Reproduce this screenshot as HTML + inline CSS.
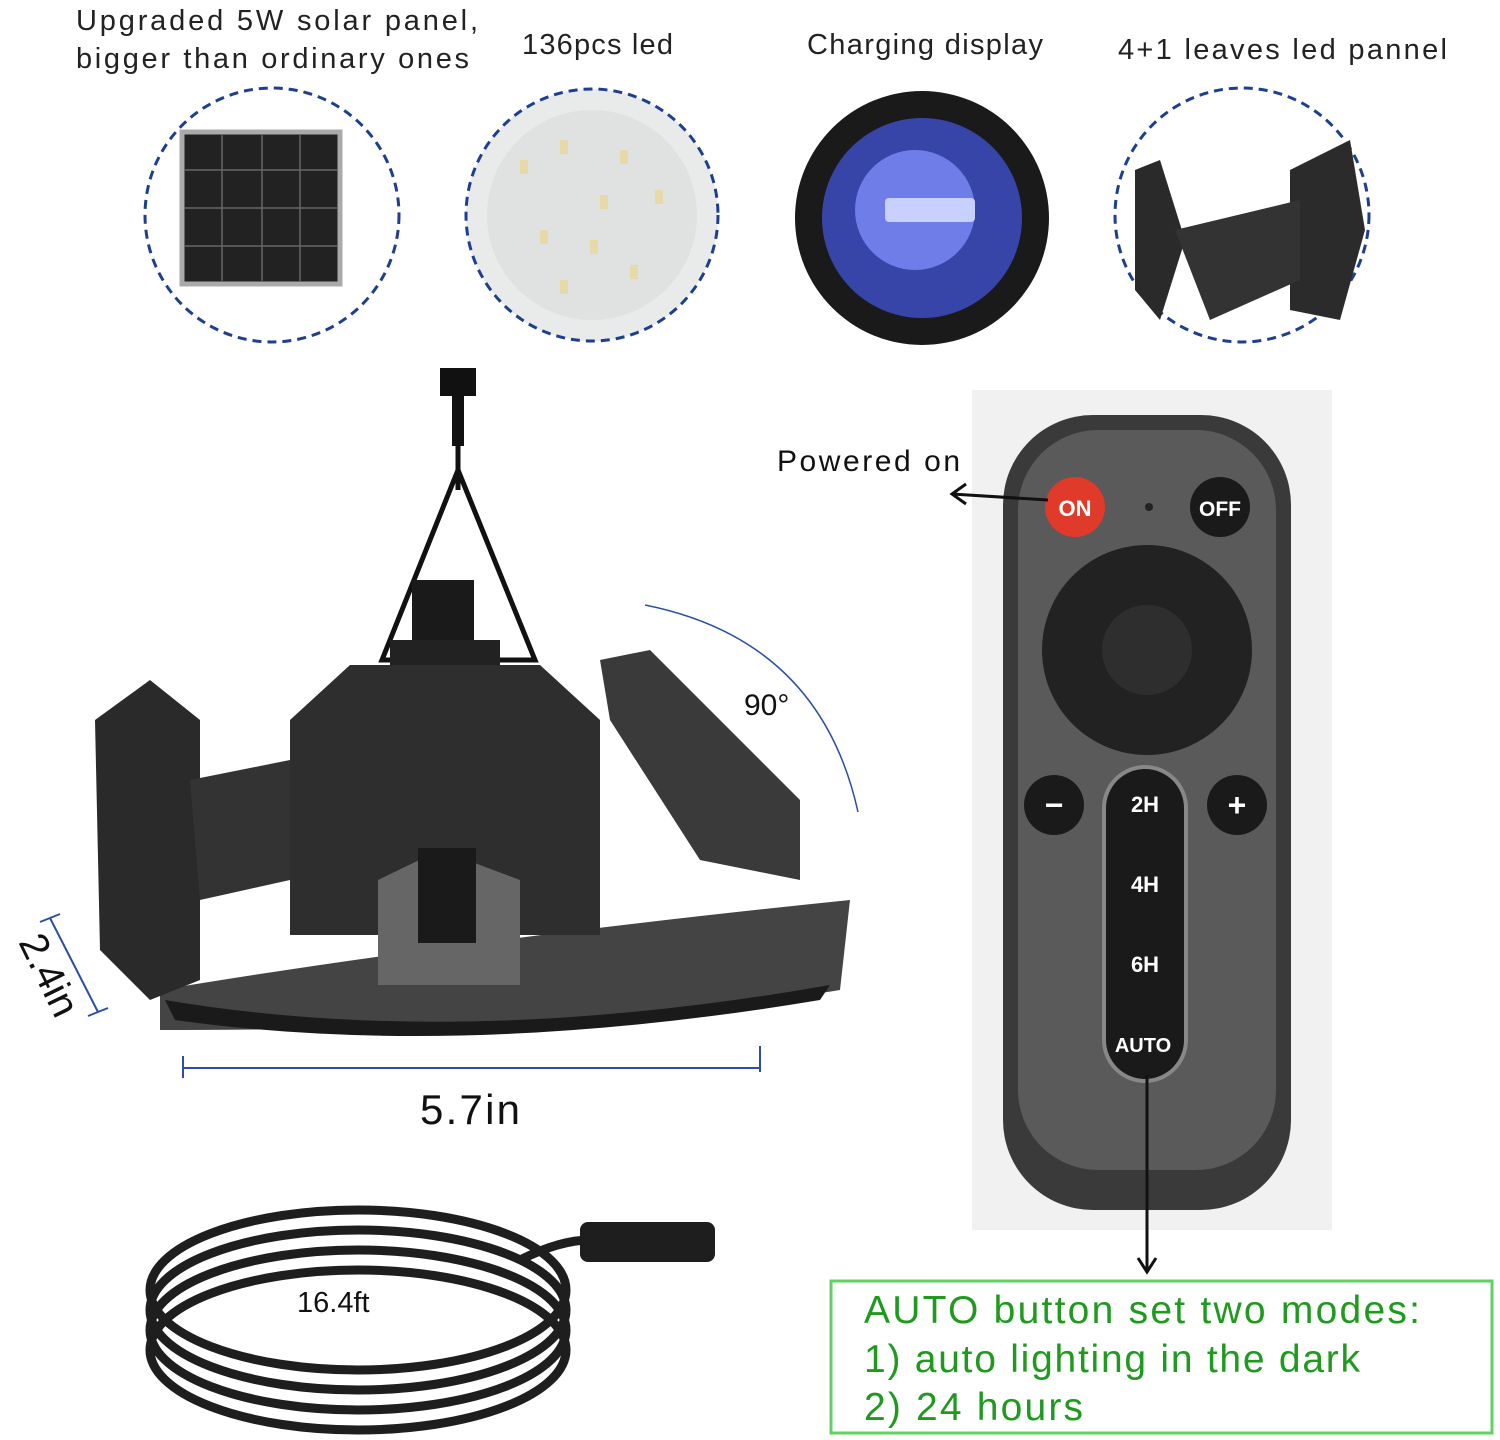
<!DOCTYPE html>
<html><head><meta charset="utf-8"><style>
html,body{margin:0;padding:0;background:#fff;}
svg{display:block;font-family:"Liberation Sans",sans-serif;}
</style></head><body>
<svg width="1500" height="1440" viewBox="0 0 1500 1440">
<rect width="1500" height="1440" fill="#fff"/>
<g font-size="29" fill="#222">
<text x="76" y="30" textLength="402" lengthAdjust="spacing">Upgraded 5W solar panel,</text>
<text x="76" y="68" textLength="393" lengthAdjust="spacing">bigger than ordinary ones</text>
<text x="522" y="54" textLength="151" lengthAdjust="spacing">136pcs led</text>
<text x="807" y="54" textLength="236" lengthAdjust="spacing">Charging display</text>
<text x="1118" y="59" textLength="329" lengthAdjust="spacing">4+1 leaves led pannel</text>
</g>
<g>
<circle cx="272" cy="215" r="127" fill="#fff" stroke="#1d3f8f" stroke-width="3" stroke-dasharray="9 6"/>
<polygon points="215,240 265,240 250,270 225,270" fill="#ddd"/>
<rect x="182" y="132" width="158" height="152" fill="#222" stroke="#aaa" stroke-width="5"/>
<g stroke="#666" stroke-width="1.5">
<line x1="222" y1="134" x2="222" y2="282"/><line x1="262" y1="134" x2="262" y2="282"/><line x1="300" y1="134" x2="300" y2="282"/>
<line x1="184" y1="170" x2="338" y2="170"/><line x1="184" y1="208" x2="338" y2="208"/><line x1="184" y1="246" x2="338" y2="246"/>
</g>
</g>
<g>
<circle cx="592" cy="215" r="126" fill="#e8ebea" stroke="#1d3f8f" stroke-width="3" stroke-dasharray="9 6"/>
<circle cx="592" cy="215" r="105" fill="#dfe2e0"/>
<g fill="#e8d9a8"><rect x="520" y="160" width="8" height="14"/><rect x="560" y="140" width="8" height="14"/><rect x="620" y="150" width="8" height="14"/><rect x="655" y="190" width="8" height="14"/><rect x="540" y="230" width="8" height="14"/><rect x="590" y="240" width="8" height="14"/><rect x="630" y="265" width="8" height="14"/><rect x="560" y="280" width="8" height="14"/><rect x="600" y="195" width="8" height="14"/></g>
</g>
<g>
<circle cx="922" cy="218" r="127" fill="#1a1a1a"/>
<circle cx="922" cy="218" r="100" fill="#3845a8"/>
<circle cx="915" cy="210" r="60" fill="#6f7de8"/>
<rect x="885" y="198" width="90" height="24" rx="4" fill="#c8d0ff"/>
</g>
<g>
<circle cx="1242" cy="215" r="127" fill="#fff" stroke="#1d3f8f" stroke-width="3" stroke-dasharray="9 6"/>
<polygon points="1135,170 1160,160 1185,240 1160,320 1135,290" fill="#2a2a2a"/>
<polygon points="1290,170 1350,140 1365,230 1340,320 1290,310" fill="#2b2b2b"/>
<polygon points="1175,230 1300,200 1300,280 1210,320" fill="#333"/>
</g>
<g>
<rect x="440" y="368" width="36" height="28" fill="#111"/>
<rect x="452" y="396" width="12" height="50" fill="#111"/>
<line x1="458" y1="446" x2="458" y2="490" stroke="#111" stroke-width="5"/>
<polygon points="458,470 382,660 535,660" fill="none" stroke="#111" stroke-width="5"/>
<rect x="412" y="580" width="62" height="85" fill="#1a1a1a"/>
<rect x="390" y="640" width="110" height="30" fill="#222"/>
<path d="M160,990 Q460,940 850,900 L840,990 Q600,1030 160,1030 Z" fill="#444"/>
<path d="M165,1000 Q460,1050 830,985 L820,1000 Q460,1060 175,1020 Z" fill="#1a1a1a"/>
<polygon points="290,720 350,665 540,665 600,720 600,935 290,935" fill="#2e2e2e"/>
<polygon points="95,720 150,680 200,720 200,980 150,1000 100,950" fill="#2a2a2a"/>
<polygon points="190,780 290,760 290,880 200,900" fill="#333"/>
<polygon points="600,660 650,650 800,800 800,880 700,860 610,720" fill="#3a3a3a"/>
<polygon points="378,880 440,850 520,880 520,985 378,985" fill="#666"/>
<rect x="418" y="848" width="58" height="95" fill="#1a1a1a"/>
</g>
<path d="M645,605 Q820,640 858,812" fill="none" stroke="#2a4fa8" stroke-width="1.5"/>
<text x="744" y="715" font-size="30" fill="#111">90°</text>
<g stroke="#2a4fa8" stroke-width="2">
<line x1="50" y1="918" x2="98" y2="1012"/><line x1="40" y1="922" x2="60" y2="914"/><line x1="88" y1="1016" x2="108" y2="1008"/>
<line x1="183" y1="1068" x2="760" y2="1068"/><line x1="183" y1="1056" x2="183" y2="1078"/><line x1="760" y1="1046" x2="760" y2="1072"/>
</g>
<text x="0" y="0" font-size="40" fill="#111" transform="translate(18,942) rotate(64)">2.4in</text>
<text x="420" y="1124" font-size="42" fill="#111" textLength="100" lengthAdjust="spacing">5.7in</text>
<g fill="none" stroke="#1e1e1e" stroke-width="9">
<ellipse cx="358" cy="1290" rx="208" ry="80"/>
<ellipse cx="358" cy="1310" rx="208" ry="80"/>
<ellipse cx="358" cy="1330" rx="208" ry="80"/>
<ellipse cx="358" cy="1350" rx="208" ry="80"/>
<path d="M520,1260 Q560,1240 590,1240"/>
</g>
<rect x="580" y="1222" width="135" height="40" rx="8" fill="#1e1e1e"/>
<text x="297" y="1312" font-size="29" fill="#111">16.4ft</text>
<rect x="972" y="390" width="360" height="840" fill="#f1f1f1"/>
<g>
<rect x="1003" y="415" width="288" height="795" rx="90" fill="#3a3a3a"/>
<rect x="1018" y="430" width="258" height="740" rx="80" fill="#5a5a5a"/>
<circle cx="1075" cy="507" r="30" fill="#e03a2a"/>
<text x="1075" y="516" font-size="22" font-weight="bold" fill="#fff" text-anchor="middle">ON</text>
<circle cx="1149" cy="507" r="4" fill="#222"/>
<circle cx="1220" cy="507" r="30" fill="#1a1a1a"/>
<text x="1220" y="516" font-size="21" font-weight="bold" fill="#fff" text-anchor="middle">OFF</text>
<circle cx="1147" cy="650" r="105" fill="#222"/>
<circle cx="1147" cy="650" r="45" fill="#2e2e2e"/>
<circle cx="1054" cy="805" r="30" fill="#1a1a1a"/>
<text x="1054" y="816" font-size="32" font-weight="bold" fill="#fff" text-anchor="middle">−</text>
<circle cx="1237" cy="805" r="30" fill="#1a1a1a"/>
<text x="1237" y="816" font-size="32" font-weight="bold" fill="#fff" text-anchor="middle">+</text>
<rect x="1102" y="765" width="86" height="318" rx="43" fill="#888"/>
<rect x="1106" y="769" width="78" height="310" rx="39" fill="#1a1a1a"/>
<g font-size="22" font-weight="bold" fill="#fff" text-anchor="middle">
<text x="1145" y="812">2H</text>
<text x="1145" y="892">4H</text>
<text x="1145" y="972">6H</text>
<text x="1143" y="1052" font-size="20">AUTO</text>
</g>
</g>
<g stroke="#111" stroke-width="3" fill="none">
<line x1="1048" y1="500" x2="952" y2="494"/><polyline points="966,484 952,494 966,504"/>
<line x1="1147" y1="1075" x2="1147" y2="1270"/><polyline points="1138,1258 1147,1272 1156,1258"/>
</g>
<text x="777" y="471" font-size="30" fill="#111" textLength="183" lengthAdjust="spacing">Powered on</text>
<rect x="831" y="1281" width="661" height="152" fill="none" stroke="#62d062" stroke-width="3"/>
<g font-size="39" fill="#1f9a1f">
<text x="864" y="1323" textLength="556" lengthAdjust="spacing">AUTO button set two modes:</text>
<text x="864" y="1372" textLength="496" lengthAdjust="spacing">1) auto lighting in the dark</text>
<text x="864" y="1420" textLength="219" lengthAdjust="spacing">2) 24 hours</text>
</g>
</svg>
</body></html>
